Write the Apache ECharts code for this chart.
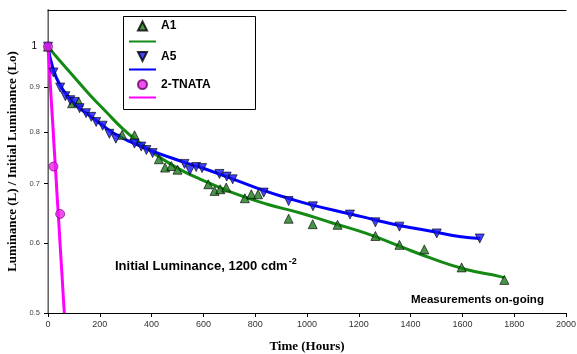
<!DOCTYPE html>
<html><head><meta charset="utf-8">
<script src="https://cdn.jsdelivr.net/npm/echarts@6/dist/echarts.min.js"></script>
<style>html,body{margin:0;padding:0;background:#fff}#c{width:577px;height:354px}</style>
</head><body><div id="c"></div>
<script>
// ---- data ----
const a1Hours = [0, 93, 119, 286, 334, 428, 452, 476, 500, 619, 643, 665, 688, 760, 785, 811, 929, 1022, 1118, 1264, 1357, 1453, 1597, 1762];
const a1Lum   = [1, 0.863, 0.866, 0.795, 0.794, 0.746, 0.730, 0.733, 0.726, 0.699, 0.687, 0.690, 0.693, 0.674, 0.681, 0.681, 0.639, 0.630, 0.629, 0.611, 0.597, 0.590, 0.563, 0.545];
const a5Hours = [0, 21, 47, 67, 86, 102, 122, 147, 167, 186, 211, 237, 262, 334, 360, 380, 404, 527, 548, 572, 595, 662, 690, 713, 833, 929, 1023, 1166, 1264, 1357, 1501, 1667];
const a5Lum   = [1, 0.935, 0.899, 0.879, 0.870, 0.866, 0.852, 0.841, 0.833, 0.822, 0.814, 0.797, 0.787, 0.777, 0.771, 0.764, 0.758, 0.737, 0.725, 0.731, 0.729, 0.718, 0.713, 0.708, 0.684, 0.669, 0.660, 0.646, 0.633, 0.626, 0.615, 0.607];
const tnHours = [0, 21, 47];
const tnLum   = [1, 0.732, 0.647];
const a1FitHours = [0, 44, 94, 160, 226, 288, 353, 411, 469, 527, 585, 712, 843, 971, 1098, 1229, 1357, 1484, 1615, 1743, 1762];
const a1FitLum   = [1, 0.965, 0.929, 0.883, 0.843, 0.808, 0.779, 0.757, 0.738, 0.722, 0.709, 0.684, 0.664, 0.649, 0.632, 0.615, 0.595, 0.576, 0.560, 0.550, 0.548];
const a5FitHours = [0, 21, 48, 83, 122, 168, 210, 264, 334, 403, 527, 585, 712, 832, 928, 1021, 1168, 1264, 1357, 1500, 1588, 1669];
const a5FitLum   = [1, 0.941, 0.903, 0.875, 0.852, 0.833, 0.815, 0.795, 0.777, 0.762, 0.740, 0.731, 0.709, 0.688, 0.674, 0.662, 0.647, 0.637, 0.628, 0.617, 0.610, 0.607];
const tnFitHours = [0, 63];
const tnFitLum   = [1, 0.5];
const xTicks = [0, 200, 400, 600, 800, 1000, 1200, 1400, 1600, 1800, 2000];
const yTicks = [0.5, 0.6, 0.7, 0.8, 0.9, 1];

const pairs = (xs, ys) => xs.map((x, i) => [x, ys[i]]);
const triUp = 'path://M5,0L10,10L0,10Z';
const triDown = 'path://M0,0L10,0L5,10Z';

const chart = echarts.init(document.getElementById('c'), null, {renderer: 'canvas'});
const legendText = {fontFamily: 'Liberation Sans, Arial', fontWeight: 'bold', fontSize: 12, color: '#000'};
function symLegend(name, cy) {
  return {
    data: [name], left: 137, top: cy - 6, padding: 0, itemWidth: 27, itemHeight: 9,
    selectedMode: false, textStyle: legendText
  };
}
function lineLegend(name, cy) {
  return {
    data: [name], left: 128, top: cy - 4.5, padding: 0, itemWidth: 27, itemHeight: 9,
    selectedMode: false, textStyle: legendText, formatter: () => '',
    itemStyle: {opacity: 0, borderWidth: 0, color: 'rgba(0,0,0,0)'}
  };
}
chart.setOption({
  animation: false,
  backgroundColor: '#fff',
  grid: {left: 48, right: 11, top: 10, bottom: 41, containLabel: false, outerBoundsMode: 'none'},
  xAxis: [{
    type: 'value', min: 0, max: 2000, interval: 200,
    axisLine: {show: true, lineStyle: {color: '#000', width: 1}},
    axisTick: {show: true, inside: false, length: 4, lineStyle: {color: '#000'}},
    axisLabel: {show: true, margin: 7, fontFamily: 'Liberation Sans, Arial', fontSize: 9, color: '#333',
      customValues: xTicks, formatter: (v) => String(v)},
    splitLine: {show: false},
    name: 'Time (Hours)', nameLocation: 'middle', nameGap: 27,
    nameTextStyle: {fontFamily: 'Liberation Serif, Times New Roman', fontWeight: 'bold', fontSize: 13, color: '#000'}
  }, {
    type: 'value', position: 'top', min: 0, max: 2000,
    axisLine: {show: true, lineStyle: {color: '#000', width: 1}},
    axisTick: {show: false}, axisLabel: {show: false}, splitLine: {show: false}
  }],
  yAxis: [{
    type: 'log', logBase: 10, min: 0.5, max: 1.1,
    axisLine: {show: true, lineStyle: {color: '#000', width: 1}},
    axisTick: {show: true, inside: false, length: 4, lineStyle: {color: '#000'}, customValues: yTicks},
    minorTick: {show: false},
    axisLabel: {show: true, margin: 8, customValues: yTicks,
      formatter: (v) => Math.abs(v - 1) < 1e-9 ? '{b|1}' : '{s|' + (+v.toFixed(1)) + '}',
      rich: {
        b: {fontFamily: 'Liberation Sans, Arial', fontSize: 10, color: '#000', padding: [0, 3, 0, 0]},
        s: {fontFamily: 'Liberation Sans, Arial', fontSize: 7.5, color: '#444'}
      }},
    splitLine: {show: false},
    name: 'Luminance (L) / Initial Luminance (Lo)', nameLocation: 'middle', nameGap: 25,
    nameTextStyle: {fontFamily: 'Liberation Serif, Times New Roman', fontWeight: 'bold', fontSize: 13, color: '#000'}
  }, {
    type: 'value', position: 'right', min: 0, max: 1,
    axisLine: {show: true, lineStyle: {color: '#888', width: 1.5}},
    axisTick: {show: false}, axisLabel: {show: false}, splitLine: {show: false}
  }],
  legend: [
    symLegend('A1', 26),
    lineLegend('A1 fit', 41.5),
    symLegend('A5', 56.5),
    lineLegend('A5 fit', 69.5),
    symLegend('2-TNATA', 84.5),
    lineLegend('2-TNATA fit', 97.5)
  ],
  graphic: [
    {type: 'rect', shape: {x: 123.5, y: 16.5, width: 132, height: 93}, style: {fill: 'none', stroke: '#000', lineWidth: 1}, z: 1},
    {type: 'text', left: 115, top: 257, style: {
      text: '{a|Initial Luminance, 1200 cdm}{s|-2}',
      rich: {a: {fontFamily: 'Liberation Sans, Arial', fontWeight: 'bold', fontSize: 13, color: '#000'},
             s: {fontFamily: 'Liberation Sans, Arial', fontWeight: 'bold', fontSize: 9, color: '#000', padding: [0, 0, 10, 1]}}
    }},
    {type: 'text', left: 411, top: 294, style: {
      text: 'Measurements on-going', fontFamily: 'Liberation Sans, Arial', fontWeight: 'bold', fontSize: 11.5, fill: '#000'
    }}
  ],
  series: [
    {name: 'A1 fit', type: 'line', data: pairs(a1FitHours, a1FitLum), smooth: 0.5, symbol: 'none',
     lineStyle: {color: '#148a14', width: 3}, itemStyle: {color: '#148a14'}, z: 2},
    {name: 'A5 fit', type: 'line', data: pairs(a5FitHours, a5FitLum), smooth: 0.5, symbol: 'none',
     lineStyle: {color: '#0000ff', width: 3}, itemStyle: {color: '#0000ff'}, z: 2},
    {name: '2-TNATA fit', type: 'line', data: pairs(tnFitHours, tnFitLum), symbol: 'none',
     lineStyle: {color: '#ff00ff', width: 3}, itemStyle: {color: '#ff00ff'}, z: 2},
    {name: 'A1', type: 'scatter', data: pairs(a1Hours, a1Lum), symbol: triUp, symbolSize: 9,
     itemStyle: {color: '#1a7a1a', borderColor: '#000', borderWidth: 0.8}, z: 3},
    {name: 'A5', type: 'scatter', data: pairs(a5Hours, a5Lum), symbol: triDown, symbolSize: 9,
     itemStyle: {color: '#1515ff', borderColor: '#000', borderWidth: 0.8}, z: 3},
    {name: '2-TNATA', type: 'scatter', data: pairs(tnHours, tnLum), symbol: 'circle', symbolSize: 9,
     itemStyle: {color: '#ee22ee', borderColor: '#660066', borderWidth: 0.8}, z: 4}
  ]
});
</script></body></html>
